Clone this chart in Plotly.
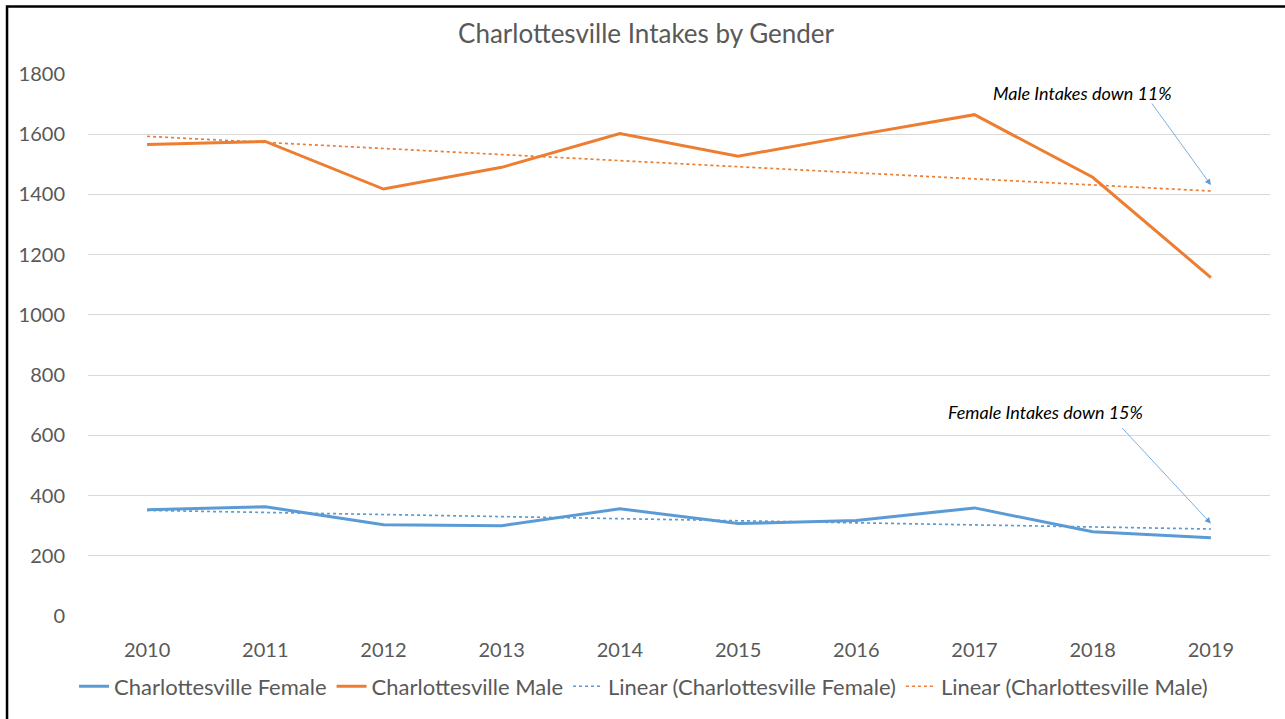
import numpy as np
import plotly.graph_objects as go

years = [2010, 2011, 2012, 2013, 2014, 2015, 2016, 2017, 2018, 2019]
female = [353, 363, 303, 300, 356, 307, 317, 359, 280, 260]
male = [1566, 1576, 1418, 1490, 1602, 1527, 1597, 1665, 1457, 1124]
y_ticks = [0, 200, 400, 600, 800, 1000, 1200, 1400, 1600, 1800]

BLUE = "#5B9BD5"
ORANGE = "#ED7D31"
GREY = "#595959"
FONT = "Lato"


def trend(xs, ys):
    xs = np.array(xs, dtype=float)
    slope, intercept = np.polyfit(xs, np.array(ys, dtype=float), 1)
    return list(slope * xs + intercept)


fig = go.Figure()
fig.add_trace(go.Scatter(x=years, y=female, mode="lines", name="Charlottesville Female",
                         line=dict(color=BLUE, width=3)))
fig.add_trace(go.Scatter(x=years, y=male, mode="lines", name="Charlottesville Male",
                         line=dict(color=ORANGE, width=3)))
fig.add_trace(go.Scatter(x=years, y=trend(years, female), mode="lines",
                         name="Linear (Charlottesville Female)",
                         line=dict(color=BLUE, width=1.7, dash="dot")))
fig.add_trace(go.Scatter(x=years, y=trend(years, male), mode="lines",
                         name="Linear (Charlottesville Male)",
                         line=dict(color=ORANGE, width=1.7, dash="dot")))

# text annotations
fig.add_annotation(x=2017.91, y=1738, text="<i>Male Intakes down 11%</i>", showarrow=False,
                   font=dict(family=FONT, size=18, color="#000000"))
fig.add_annotation(x=2017.6, y=676, text="<i>Female Intakes down 15%</i>", showarrow=False,
                   font=dict(family=FONT, size=18, color="#000000"))
# arrows
fig.add_annotation(x=2019, y=1431, ax=-60, ay=-83, text="", showarrow=True,
                   arrowhead=2, arrowsize=1.5, arrowwidth=0.8, arrowcolor=BLUE)
fig.add_annotation(x=2019, y=307, ax=-90, ay=-97, text="", showarrow=True,
                   arrowhead=2, arrowsize=1.5, arrowwidth=0.8, arrowcolor=BLUE)

# outer border of chart
fig.add_shape(type="rect", xref="paper", yref="paper",
              x0=-0.0685, x1=1.02, y0=-0.2, y1=1.1245,
              line=dict(color="#000000", width=2.5), fillcolor="rgba(0,0,0,0)", layer="above")

fig.update_layout(
    width=1285, height=719,
    margin=dict(l=88, r=15, t=74, b=99),
    paper_bgcolor="white", plot_bgcolor="white",
    font=dict(family=FONT, color=GREY),
    title=dict(text="Charlottesville Intakes by Gender", x=646 / 1285, xanchor="center",
               y=1 - 34 / 719, yanchor="middle", xref="container",
               font=dict(family=FONT, size=26, color=GREY)),
    showlegend=True,
    legend=dict(orientation="h", x=0.47, xanchor="center", y=-0.13, yanchor="middle",
                font=dict(family=FONT, size=22, color=GREY), itemwidth=30,
                tracegroupgap=0, bgcolor="rgba(0,0,0,0)"),
    xaxis=dict(range=[2009.5, 2019.5], tickmode="array", tickvals=years,
               ticktext=[str(y) for y in years], showgrid=False, zeroline=False,
               showline=False, ticks="", ticklabelstandoff=20,
               tickfont=dict(family=FONT, size=20, color=GREY)),
    yaxis=dict(range=[0, 1800], tickmode="array", tickvals=y_ticks,
               ticktext=[str(v) for v in y_ticks], showgrid=True, gridcolor="#D9D9D9",
               gridwidth=1, zeroline=False, showline=False, ticks="", ticklabelstandoff=22,
               tickfont=dict(family=FONT, size=20, color=GREY)),
)

fig.write_html("out.html", config={"displayModeBar": False},
               post_script="document.body.style.margin='0';")
